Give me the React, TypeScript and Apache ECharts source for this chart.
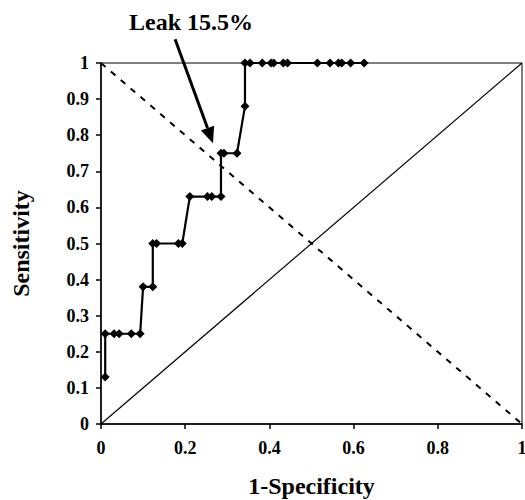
import React, { useEffect, useRef } from "react";
import * as echarts from "echarts";

const rocX = [0.01, 0.01, 0.031, 0.043, 0.072, 0.093, 0.1, 0.123, 0.123, 0.132, 0.184, 0.193, 0.211, 0.253, 0.263, 0.285, 0.285, 0.292, 0.323, 0.342, 0.342, 0.354, 0.383, 0.404, 0.41, 0.433, 0.443, 0.514, 0.544, 0.564, 0.572, 0.593, 0.625];
const rocY = [0.13, 0.25, 0.25, 0.25, 0.25, 0.25, 0.38, 0.38, 0.5, 0.5, 0.5, 0.5, 0.63, 0.63, 0.63, 0.63, 0.75, 0.75, 0.75, 0.88, 1, 1, 1, 1, 1, 1, 1, 1, 1, 1, 1, 1, 1];
const diagonal = [[0, 0], [1, 1]];
const cutoffLine = [[0, 1], [1, 0]];
const annotationText = "Leak 15.5%";
const annotationTextPos = [0.214, 1.113];
const arrowTail = [0.176, 1.066];
const arrowTip = [0.266, 0.778];

const FONT = "Liberation Serif";

export default function App() {
  const ref = useRef<HTMLDivElement>(null);
  useEffect(() => {
    document.body.style.margin = "0";
    const chart = echarts.init(ref.current!, null, { renderer: "svg" });
    chart.setOption({
      animation: false,
      backgroundColor: "#fff",
      textStyle: { fontFamily: FONT },
      grid: { left: 101, right: 3, top: 63, bottom: 76, outerBoundsMode: "none", containLabel: false, show: true, borderColor: "#000", borderWidth: 1, backgroundColor: "transparent" },
      xAxis: {
        type: "value", min: 0, max: 1, interval: 0.2,
        name: "1-Specificity", nameLocation: "middle", nameGap: 50,
        nameTextStyle: { fontFamily: FONT, fontWeight: "bold", fontSize: 24, color: "#000" },
        axisLine: { show: true, onZero: false, lineStyle: { color: "#000", width: 1.5 } },
        axisTick: { show: true, inside: false, length: 5, lineStyle: { color: "#000", width: 1.5 } },
        axisLabel: { fontFamily: FONT, fontWeight: "bold", fontSize: 18, color: "#000", margin: 15, formatter: (v: number) => String(+v.toFixed(1)) },
        splitLine: { show: false },
      },
      yAxis: {
        type: "value", min: 0, max: 1, interval: 0.1,
        name: "Sensitivity", nameLocation: "middle", nameGap: 68, nameRotate: 90,
        nameTextStyle: { fontFamily: FONT, fontWeight: "bold", fontSize: 24, color: "#000" },
        axisLine: { show: true, onZero: false, lineStyle: { color: "#000", width: 1.5 } },
        axisTick: { show: true, inside: false, length: 5, lineStyle: { color: "#000", width: 1.5 } },
        axisLabel: { fontFamily: FONT, fontWeight: "bold", fontSize: 18, color: "#000", margin: 12, formatter: (v: number) => String(+v.toFixed(1)) },
        splitLine: { show: false },
      },
      series: [
        {
          type: "line", data: diagonal, symbol: "none",
          lineStyle: { color: "#000", width: 1.2 }, z: 1,
        },
        {
          type: "line", data: cutoffLine, symbol: "none",
          lineStyle: { color: "#000", width: 2, type: [6, 7] }, z: 1,
        },
        {
          type: "line", data: rocX.map((x, i) => [x, rocY[i]]),
          symbol: "diamond", symbolSize: 9,
          itemStyle: { color: "#000" },
          lineStyle: { color: "#000", width: 2.2 }, z: 3,
        },
      ],
    });
    const tp = chart.convertToPixel({ gridIndex: 0 }, annotationTextPos);
    const a0 = chart.convertToPixel({ gridIndex: 0 }, arrowTail);
    const a1 = chart.convertToPixel({ gridIndex: 0 }, arrowTip);
    const dx = a1[0] - a0[0], dy = a1[1] - a0[1];
    const len = Math.hypot(dx, dy);
    const ux = dx / len, uy = dy / len;
    const headLen = 16, headW = 7;
    const bx = a1[0] - ux * headLen, by = a1[1] - uy * headLen;
    chart.setOption({
      graphic: [
        {
          type: "text", x: tp[0], y: tp[1],
          style: { text: annotationText, fontFamily: FONT, fontWeight: "bold", fontSize: 24, fill: "#000", align: "center", verticalAlign: "middle" },
        },
        {
          type: "line", shape: { x1: a0[0], y1: a0[1], x2: bx, y2: by },
          style: { stroke: "#000", lineWidth: 3 },
        },
        {
          type: "polygon",
          shape: { points: [[a1[0], a1[1]], [bx - uy * headW, by + ux * headW], [bx + uy * headW, by - ux * headW]] },
          style: { fill: "#000" },
        },
      ],
    });
    return () => chart.dispose();
  }, []);
  return <div ref={ref} style={{ width: 525, height: 500 }} />;
}
